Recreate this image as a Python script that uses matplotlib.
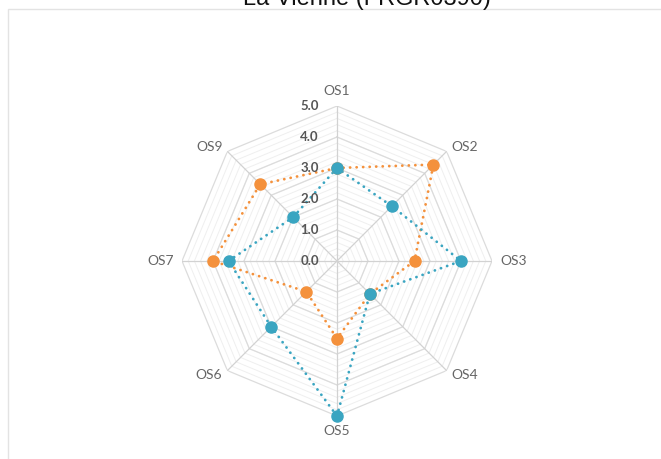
import numpy as np
import matplotlib
matplotlib.use("Agg")
import matplotlib.pyplot as plt
from matplotlib.patches import Rectangle

categories = ["OS1", "OS2", "OS3", "OS4", "OS5", "OS6", "OS7", "OS9"]
series_orange = [3.0, 4.4, 2.5, 1.5, 2.5, 1.4, 4.0, 3.5]
series_blue = [3.0, 2.5, 4.0, 1.5, 5.0, 3.0, 3.5, 2.0]
r_ticks = [0.0, 1.0, 2.0, 3.0, 4.0, 5.0]
title = "La Vienne (FRGR0390)"

W, H = 661, 459
fig = plt.figure(figsize=(W / 100, H / 100), dpi=100)
fig.patch.set_facecolor("white")

# panel frame
fig.patches.append(Rectangle((8 / W, -0.1), 1.0, (H - 9.5) / H + 0.1, transform=fig.transFigure,
                             facecolor="none", edgecolor="#e3e3e3", linewidth=1.0, zorder=-5))

fig.text(367 / W, 1 - 5.5 / H, title, ha="center", va="baseline", fontsize=17,
         family="Liberation Sans", color="#111111")

cx, cy, R = 337, 261, 155
ax = fig.add_axes([(cx - R) / W, (H - cy - R) / H, 2 * R / W, 2 * R / H], projection="polar")
ax.set_theta_offset(np.pi / 2)
ax.set_theta_direction(-1)
ax.set_ylim(0, 5)
ax.grid(False)
ax.spines["polar"].set_visible(False)
ax.set_xticks([])
ax.set_yticks([])
ax.patch.set_alpha(0)

n = len(categories)
theta = np.arange(n) * 2 * np.pi / n
theta_c = np.append(theta, theta[0])

# fine grid polygons
for rr in np.arange(0.2, 5.0, 0.2):
    ax.plot(theta_c, [rr] * (n + 1), color="#efefef", lw=0.7, zorder=1)
for rr in r_ticks[1:]:
    ax.plot(theta_c, [rr] * (n + 1), color="#dcdcdc", lw=0.9, zorder=1)
for t in theta:
    ax.plot([t, t], [0, 5], color="#d2d2d2", lw=0.9, zorder=1)

def draw(vals, color):
    v = np.append(vals, vals[0])
    ax.plot(theta_c, v, color=color, lw=2.0, linestyle=(0, (0.05, 2.3)),
            dash_capstyle="round", zorder=3, clip_on=False)
    ax.plot(theta, vals, "o", color=color, markersize=8, zorder=4, clip_on=False)

draw(series_orange, "#f4913c")
draw(series_blue, "#3aa5c1")

# radial tick labels
for rr in r_ticks:
    ax.annotate(f"{rr:.1f}", xy=(0, rr), xytext=(-13, 0), textcoords="offset points",
                ha="right", va="center", fontsize=9.5, fontweight="bold",
                family="Lato", color="#555555", zorder=5)

# category labels anchored at outer vertices with pixel offsets
px = 0.72
for t, lab in zip(theta, categories):
    sx, sy = np.sin(t), np.cos(t)
    if sx > 0.1:
        ha, dx = "left", 5
    elif sx < -0.1:
        ha, dx = "right", -5
    else:
        ha, dx = "center", 0
    if abs(sx) < 0.1:
        dy = 15 * np.sign(sy)
    elif abs(sy) < 0.1:
        dy = 0
        dx = 8 * np.sign(sx)
    else:
        dy = 4 * np.sign(sy)
    ax.annotate(lab, xy=(t, 5), xytext=(dx * px, dy * px), textcoords="offset points",
                ha=ha, va="center", fontsize=10, family="Lato",
                color="#666666", annotation_clip=False)

fig.savefig("out.png", dpi=100)
